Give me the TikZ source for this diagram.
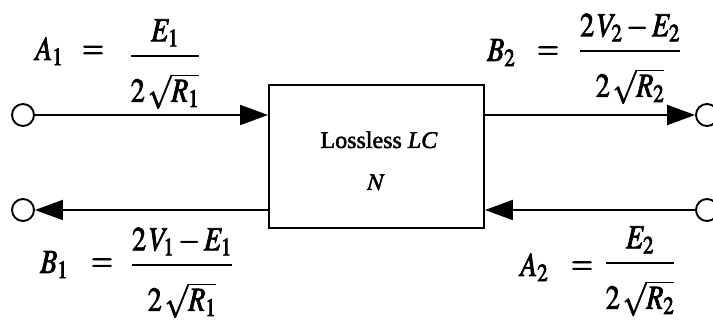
\documentclass[tikz,border=0pt]{standalone}
\usepackage{amsmath}
\usepackage{mathptmx}
\usepackage{fontspec}
\setmainfont{Liberation Serif}
\usetikzlibrary{arrows.meta}
\newcommand{\tall}[1]{\special{pdf:literal direct 2 Tr 0.7 w}\scalebox{1}[1.2]{#1}\special{pdf:literal direct 0 Tr}}
\newcommand{\heavy}[1]{\special{pdf:literal direct 2 Tr 0.5 w}#1\special{pdf:literal direct 0 Tr}}
\newcommand{\dstrut}{\rule{0pt}{1.15em}}
\newcommand{\wfrac}[2]{\genfrac{}{}{1.8pt}{0}{#1}{\dstrut #2}}
\tikzset{
  lw/.style={line width=1.9pt},
  arr/.style={lw, -{Triangle[length=28pt,width=20pt]}},
  term/.style={circle, draw, lw, minimum size=22pt, inner sep=0pt},
  eqn/.style={anchor=base, inner sep=0pt, font=\fontsize{28}{32}\selectfont},
  boxtxt/.style={anchor=base, inner sep=0pt, font=\fontsize{24}{28}\selectfont},
}
\begin{document}
\begin{tikzpicture}[x=1pt,y=-1pt]
\useasboundingbox (0,0) rectangle (713,320);
% network box
\node[draw, lw, minimum width=215pt, minimum height=143pt, inner sep=0pt] (N) at (376.5,156.5) {};
\node[boxtxt] (t1) at (379,148) {\heavy{Lossless \textit{LC}}};
\node[boxtxt] (t2) at (376,190) {\heavy{$N$}};
% terminals
\node[term] (c1) at (23,115) {};
\node[term] (c2) at (23,210) {};
\node[term] (c3) at (707,115) {};
\node[term] (c4) at (707,210) {};
% waves
\draw[arr] (c1) -- (c1 -| N.west);
\draw[arr] (c1 -| N.east) -- (c3);
\draw[arr] (c2 -| N.west) -- (c2);
\draw[arr] (c4) -- (c2 -| N.east);
% labels top-left
\node[eqn, anchor=base west] (a1) at (35,60) {\tall{$A_1$}};
\node[eqn] (e1) at (93,58.4) {\tall{$=$}};
\node[eqn] (f1) at (165,64) {\tall{$\wfrac{E_1}{2\,\sqrt{R_1}}$}};
% top-right
\node[eqn, anchor=base west] (b2) at (487,61) {\tall{$B_2$}};
\node[eqn] (e2) at (548,59) {\tall{$=$}};
\node[eqn] (f2) at (630,59) {\tall{$\wfrac{2\,V_2-E_2}{2\,\sqrt{R_2}}$}};
% bottom-left
\node[eqn, anchor=base west] (b1) at (40,273) {\tall{$B_1$}};
\node[eqn] (e3) at (102,271) {\tall{$=$}};
\node[eqn] (f3) at (182,273) {\tall{$\wfrac{2\,V_1-E_1}{2\,\sqrt{R_1}}$}};
% bottom-right
\node[eqn, anchor=base west] (a2) at (520,276) {\tall{$A_2$}};
\node[eqn] (e4) at (582,274) {\tall{$=$}};
\node[eqn] (f4) at (640,271) {\tall{$\wfrac{E_2}{2\,\sqrt{R_2}}$}};
\end{tikzpicture}
\end{document}
